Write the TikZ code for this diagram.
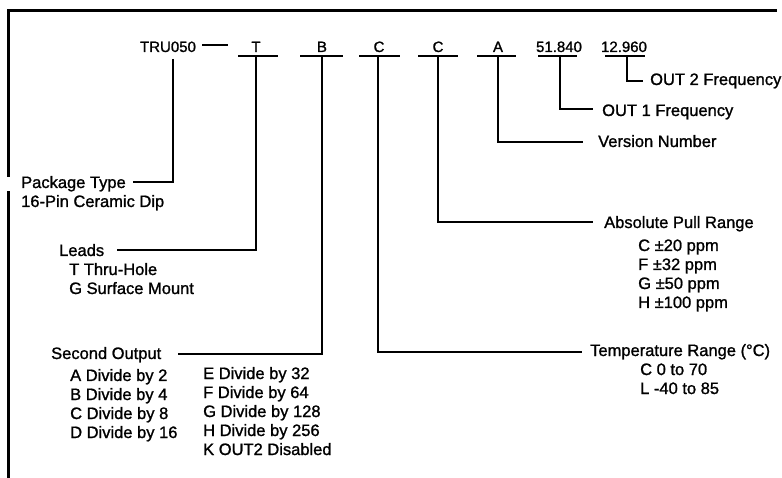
\documentclass[tikz,border=0pt]{standalone}
\usepackage{fontspec}
\setmainfont{Liberation Sans}[FakeBold=1.2]
\begin{document}
\begin{tikzpicture}[x=1pt,y=-1pt,
  wire/.style={line width=2.8pt},
  frame/.style={line width=3pt},
  code/.style={font=\fontsize{15}{17}\selectfont, inner sep=0pt, anchor=base},
  lbl/.style={font=\fontsize{16.5}{19}\selectfont, inner sep=0pt, anchor=base west}]
\useasboundingbox (0,0) rectangle (782,478);

% frame
\coordinate (fBot) at (8,478);
\coordinate (fGapLo) at (8,191);
\coordinate (fGapHi) at (8,177);
\coordinate (fTL) at (8,11);
\coordinate (fTR) at (777,11);
\draw[frame] (fBot) -- (fGapLo);
\draw[frame] (fGapHi) -- (fTL) -- (fTR);

% code row
\node[code] (tru) at (168,52) {TRU050};
\node[code] (cT) at (256,52) {T};
\node[code] (cB) at (322,52) {B};
\node[code] (cC1) at (379,52) {C};
\node[code] (cC2) at (438,52) {C};
\node[code] (cA) at (498,52) {A};
\node[code] (cF1) at (559,52) {51.840};
\node[code] (cF2) at (624,52) {12.960};

\coordinate (dashL) at (202,45);
\coordinate (dashR) at (228,45);
\draw[wire] (dashL) -- (dashR);

% bars
\coordinate (bTl) at (238,56);  \coordinate (bTr) at (278,56);
\coordinate (bBl) at (300,56);  \coordinate (bBr) at (343,56);
\coordinate (bC1l) at (359,56); \coordinate (bC1r) at (400,56);
\coordinate (bC2l) at (418,56); \coordinate (bC2r) at (458,56);
\coordinate (bAl) at (477,56);  \coordinate (bAr) at (516,56);
\coordinate (bF1l) at (538,56); \coordinate (bF1r) at (577,56);
\coordinate (bF2l) at (605,56); \coordinate (bF2r) at (645,56);
\foreach \b in {T,B,C1,C2,A,F1,F2}{\draw[wire] (b\b l) -- (b\b r);}

% drop points
\coordinate (dTru) at (173,59);
\coordinate (dT) at (256,56);
\coordinate (dB) at (322,56);
\coordinate (dC1) at (378,56);
\coordinate (dC2) at (438,56);
\coordinate (dA) at (498,56);
\coordinate (dF1) at (560,56);
\coordinate (dF2) at (627,56);

% line ends
\coordinate (ePkg) at (133,182);
\coordinate (eLeads) at (117,250);
\coordinate (eSec) at (178,354);
\coordinate (eTemp) at (582,352);
\coordinate (ePull) at (593,222);
\coordinate (eVer) at (583,142);
\coordinate (eF1) at (593,109);
\coordinate (eF2) at (643,81);

\draw[wire] (dTru) |- (ePkg);
\draw[wire] (dT) |- (eLeads);
\draw[wire] (dB) |- (eSec);
\draw[wire] (dC1) |- (eTemp);
\draw[wire] (dC2) |- (ePull);
\draw[wire] (dA) |- (eVer);
\draw[wire] (dF1) |- (eF1);
\draw[wire] (dF2) |- (eF2);

% labels
\node[lbl] (pkg) at (21,188) {Package Type};
\node[lbl] (pkg2) at (21,207) {16-Pin Ceramic Dip};

\node[lbl] (leads) at (59,256) {Leads};
\node[lbl] (leads1) at (69,275) {T Thru-Hole};
\node[lbl] (leads2) at (69,294) {G Surface Mount};

\node[lbl] (sec) at (51,359) {Second Output};
\node[lbl] (secA) at (70,381) {A Divide by 2};
\node[lbl] (secB) at (70,400) {B Divide by 4};
\node[lbl] (secC) at (70,419) {C Divide by 8};
\node[lbl] (secD) at (70,438) {D Divide by 16};
\node[lbl] (secE) at (203,379) {E Divide by 32};
\node[lbl] (secF) at (203,398) {F Divide by 64};
\node[lbl] (secG) at (203,417) {G Divide by 128};
\node[lbl] (secH) at (203,436) {H Divide by 256};
\node[lbl] (secK) at (203,455) {K OUT2 Disabled};

\node[lbl] (temp) at (590,356) {Temperature Range (°C)};
\node[lbl] (temp1) at (640,375) {C 0 to 70};
\node[lbl] (temp2) at (640,394) {L -40 to 85};

\node[lbl] (pull) at (604,228) {Absolute Pull Range};
\node[lbl] (pull1) at (638,251) {C ±20 ppm};
\node[lbl] (pull2) at (638,270) {F ±32 ppm};
\node[lbl] (pull3) at (638,289) {G ±50 ppm};
\node[lbl] (pull4) at (638,308) {H ±100 ppm};

\node[lbl] (ver) at (598,147) {Version Number};
\node[lbl] (out1) at (602,116) {OUT 1 Frequency};
\node[lbl] (out2) at (650,85) {OUT 2 Frequency};
\end{tikzpicture}
\end{document}
